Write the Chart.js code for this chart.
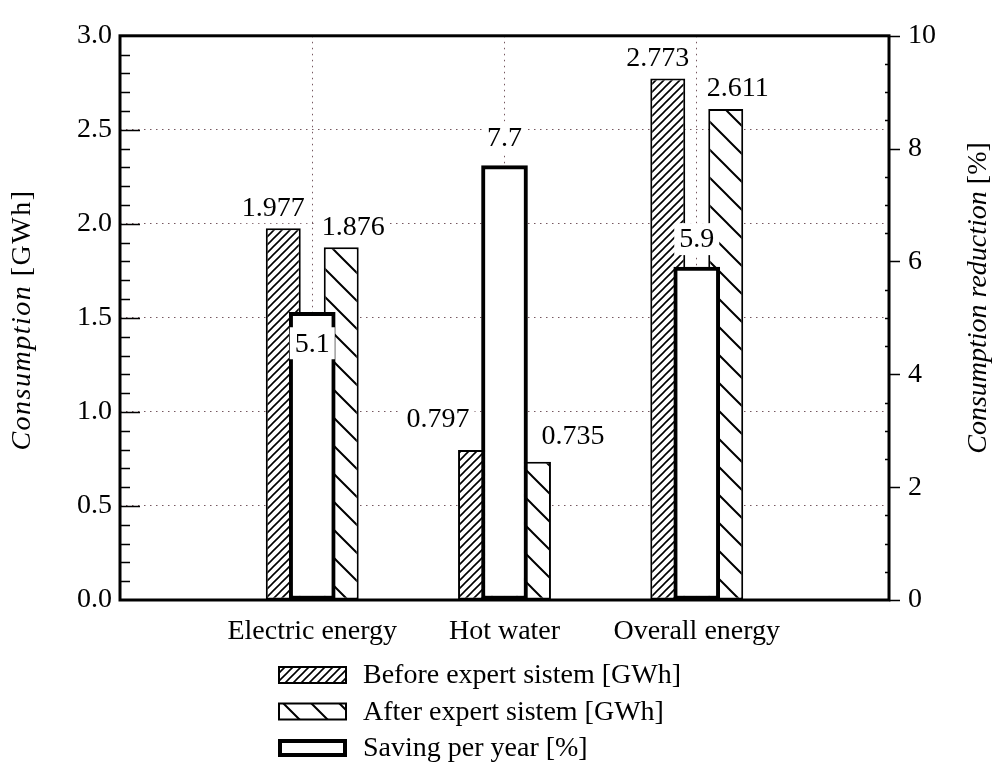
<!DOCTYPE html>
<html lang="en">
<head>
<meta charset="UTF-8">
<title>Consumption before and after expert system</title>
<script src="https://cdn.jsdelivr.net/npm/chart.js"></script>
<style>
  body { margin: 0; background: #fff; }
</style>
</head>
<body>
<canvas id="consumptionChart" width="1000" height="764"></canvas>
<script>
// data
const categories = ['Electric energy', 'Hot water', 'Overall energy'];
const beforeGWh = [1.977, 0.797, 2.773];
const afterGWh = [1.876, 0.735, 2.611];
const savingPct = [5.1, 7.7, 5.9];
const seriesNames = ['Before expert sistem [GWh]', 'After expert sistem [GWh]', 'Saving per year [%]'];
// where the saving label sits relative to its bar
const savingLabelPlace = ['inside', 'above', 'above'];

const SERIF = "'Liberation Serif', 'DejaVu Serif', serif";
const FONT = '28px ' + SERIF;
const DOT = '#765860';

// empty slot on each side so categories sit at 1..3 of a 0..4 axis
const xLabels = ['', ...categories, ''];
const pad = arr => [null, ...arr, null];

function hatch(size, forward, lw) {
    const c = document.createElement('canvas');
    c.width = size; c.height = size;
    const g = c.getContext('2d');
    g.fillStyle = '#fff';
    g.fillRect(0, 0, size, size);
    g.strokeStyle = '#000';
    g.lineWidth = lw;
    g.beginPath();
    if (forward) {
        g.moveTo(-size, size); g.lineTo(size, -size);
        g.moveTo(0, size * 2); g.lineTo(size * 2, 0);
        g.moveTo(-size, size * 2); g.lineTo(size * 2, -size);
    } else {
        g.moveTo(-size, 0); g.lineTo(size, size * 2);
        g.moveTo(0, -size); g.lineTo(size * 2, size);
        g.moveTo(-size, -size); g.lineTo(size * 2, size * 2);
    }
    g.stroke();
    return g.createPattern(c, 'repeat');
}
const beforeFill = hatch(8, true, 1.6);
const afterFill = hatch(28, false, 2);

Chart.defaults.font.family = SERIF;
Chart.defaults.font.size = 28;
Chart.defaults.color = '#000';

const frame = {
    id: 'frame',
    afterDraw(chart) {
        const { ctx, chartArea: a } = chart;
        const y = chart.scales.y, y2 = chart.scales.y2;
        ctx.save();
        ctx.strokeStyle = '#000';
        // minor/major ticks on the left, pointing inward
        ctx.lineWidth = 1.5;
        ctx.beginPath();
        for (let i = 1; i < 30; i++) {
            const py = Math.round(y.getPixelForValue(i / 10)) + 0.5;
            const len = i % 5 === 0 ? 20 : 10;
            ctx.moveTo(a.left, py); ctx.lineTo(a.left + len, py);
        }
        // right axis: small inward minors, outward majors
        for (let v = 0.5; v < 10; v += 0.5) {
            if (v % 2 === 0) continue;
            const py = Math.round(y2.getPixelForValue(v)) + 0.5;
            ctx.moveTo(a.right, py); ctx.lineTo(a.right - 4, py);
        }
        for (let v = 0; v <= 10; v += 2) {
            const py = Math.round(y2.getPixelForValue(v)) + 0.5;
            ctx.moveTo(a.right, py); ctx.lineTo(a.right + 11, py);
        }
        ctx.stroke();
        ctx.lineWidth = 3;
        ctx.strokeRect(a.left, a.top, a.right - a.left, a.bottom - a.top);

        // axis titles (italic name + upright unit)
        const title = (parts, cx, cy, spacing) => {
            ctx.save();
            ctx.translate(cx, cy);
            ctx.rotate(-Math.PI / 2);
            ctx.textBaseline = 'middle';
            ctx.textAlign = 'left';
            ctx.fillStyle = '#000';
            ctx.letterSpacing = spacing;
            let total = 0;
            parts.forEach(p => { ctx.font = p[1]; total += ctx.measureText(p[0]).width; });
            let x = -total / 2;
            parts.forEach(p => { ctx.font = p[1]; ctx.fillText(p[0], x, 0); x += ctx.measureText(p[0]).width; });
            ctx.restore();
        };
        title([['Consumption', 'italic ' + FONT], [' [GWh]', FONT]], 23, 320, '1.5px');
        title([['Consumption reduction', 'italic ' + FONT], [' [%]', FONT]], 979, 298, '0px');

        // legend, one entry per row
        chart.data.datasets.forEach((ds, i) => {
            const ty = a.bottom + 75 + i * 36.5;
            const bx = 278, bw = 69, bh = 18;
            ctx.fillStyle = '#000';
            ctx.fillRect(bx, ty - bh / 2, bw, bh);
            const bwid = ds.borderWidth;
            ctx.fillStyle = ds.backgroundColor;
            ctx.fillRect(bx + bwid, ty - bh / 2 + bwid, bw - 2 * bwid, bh - 2 * bwid);
            ctx.fillStyle = '#000';
            ctx.font = FONT;
            ctx.textAlign = 'left';
            ctx.textBaseline = 'middle';
            ctx.fillText(ds.label, 363, ty + 1);
        });
        ctx.restore();
    }
};

const valueLabels = {
    id: 'valueLabels',
    afterDatasetsDraw(chart) {
        const ctx = chart.ctx;
        const mb = chart.getDatasetMeta(0), ma = chart.getDatasetMeta(1), ms = chart.getDatasetMeta(2);
        ctx.save();
        ctx.font = FONT;
        ctx.textBaseline = 'middle';
        ctx.textAlign = 'center';
        const put = (text, cx, cy) => {
            const w = ctx.measureText(text).width;
            ctx.fillStyle = '#fff';
            ctx.fillRect(cx - w / 2 - 5, cy - 16, w + 10, 32);
            ctx.fillStyle = '#000';
            ctx.fillText(text, cx, cy + 1);
        };
        categories.forEach((c, i) => {
            const k = i + 1;
            const b = mb.data[k], a = ma.data[k], s = ms.data[k];
            const sLeft = s.x - s.width / 2, sRight = s.x + s.width / 2;

            let t = beforeGWh[i].toFixed(3), w = ctx.measureText(t).width;
            let cx = b.x - 10, cy = b.y - 21;
            if (s.y < cy + 16) { cx = sLeft - 12 - w / 2; cy -= 10; }
            put(t, cx, cy);

            t = afterGWh[i].toFixed(3); w = ctx.measureText(t).width;
            cx = a.x + 12; cy = a.y - 21;
            if (s.y < cy + 16) { cx = sRight + 14 + w / 2; cy -= 5; }
            put(t, cx, cy);

            t = savingPct[i].toFixed(1);
            put(t, s.x, savingLabelPlace[i] === 'inside' ? s.y + 31 : s.y - 28);
        });
        ctx.restore();
    }
};

new Chart(document.getElementById('consumptionChart'), {
    type: 'bar',
    data: {
        labels: xLabels,
        datasets: [{
            label: seriesNames[0],
            data: pad(beforeGWh),
            yAxisID: 'y',
            backgroundColor: beforeFill,
            borderColor: '#000', borderWidth: 2, borderSkipped: false,
            categoryPercentage: 0.603, barPercentage: 0.603,
            order: 1
        }, {
            label: seriesNames[1],
            data: pad(afterGWh),
            yAxisID: 'y',
            backgroundColor: afterFill,
            borderColor: '#000', borderWidth: 2, borderSkipped: false,
            categoryPercentage: 0.603, barPercentage: 0.603,
            order: 1
        }, {
            label: seriesNames[2],
            data: pad(savingPct),
            yAxisID: 'y2',
            grouped: false,
            backgroundColor: '#fff',
            borderColor: '#000', borderWidth: 4, borderSkipped: false,
            barThickness: 46,
            order: 0
        }]
    },
    options: {
        responsive: false,
        animation: false,
        devicePixelRatio: 1,
        layout: { padding: { top: 25, left: 0, right: 0, bottom: 0 } },
        plugins: { legend: { display: false }, tooltip: { enabled: false } },
        scales: {
            x: {
                type: 'category',
                offset: false,
                grid: { color: DOT, lineWidth: 1, drawTicks: false, offset: false },
                border: { display: false, dash: [1.5, 4.5] },
                ticks: { autoSkip: false, maxRotation: 0, padding: 15, font: { size: 28 } },
                afterFit: s => { s.height = 164; }
            },
            y: {
                position: 'left',
                min: 0, max: 3,
                grid: { color: DOT, lineWidth: 1, drawTicks: false },
                border: { display: false, dash: [1.5, 4.5] },
                ticks: { stepSize: 0.5, padding: 8, callback: v => v.toFixed(1) },
                afterFit: s => { s.width = 120; }
            },
            y2: {
                position: 'right',
                min: 0, max: 10,
                grid: { drawOnChartArea: false, drawTicks: false },
                border: { display: false },
                ticks: { stepSize: 2, padding: 19 },
                afterFit: s => { s.width = 111; }
            }
        }
    },
    plugins: [valueLabels, frame]
});
</script>
</body>
</html>
